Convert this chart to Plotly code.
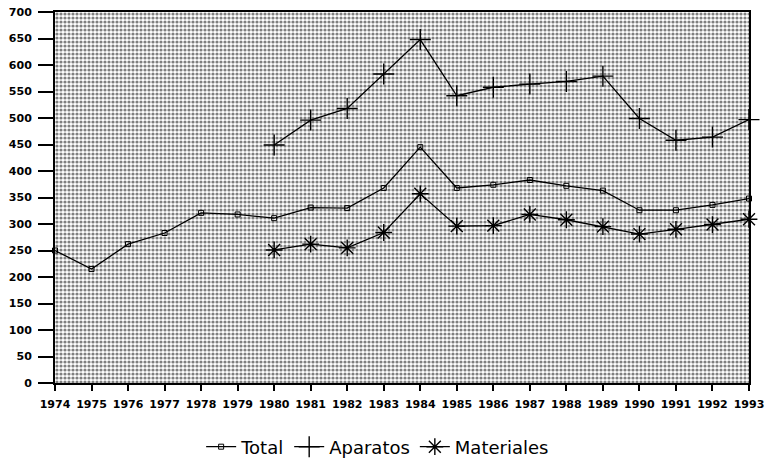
import plotly.graph_objects as go

years = list(range(1974, 1994))
total = [250, 215, 262, 283, 321, 318, 311, 331, 330, 368, 445, 368, 374, 383, 372, 363, 326, 326, 336, 348]
years_b = list(range(1980, 1994))
aparatos = [449, 496, 518, 583, 648, 542, 558, 564, 569, 579, 499, 458, 464, 497]
materiales = [251, 262, 255, 284, 357, 296, 297, 318, 308, 295, 281, 290, 299, 309]
y_ticks = list(range(0, 701, 50))
x_min, x_max, y_max = 1974, 1993, 700

fig = go.Figure()
# dotted background of the plot area
fig.add_trace(go.Scatter(
    x=[x_min, x_max], y=[y_max, y_max], mode="lines", line=dict(width=0),
    fill="tozeroy", fillcolor="white",
    fillpattern=dict(shape=".", fgcolor="black", bgcolor="white", size=4, solidity=0.5),
    hoverinfo="skip", showlegend=False))

line = dict(color="black", width=1.3)
fig.add_trace(go.Scatter(x=years, y=total, name="Total", mode="lines+markers", line=line,
                         marker=dict(symbol="square-open", size=5, color="black", line=dict(width=1)),
                         cliponaxis=False))
fig.add_trace(go.Scatter(x=years_b, y=aparatos, name="Aparatos", mode="lines+markers", line=line,
                         marker=dict(symbol="cross-thin-open", size=15, color="black", line=dict(width=1.4, color="black")),
                         cliponaxis=False))
fig.add_trace(go.Scatter(x=years_b, y=materiales, name="Materiales", mode="lines+markers", line=line,
                         marker=dict(symbol="asterisk-open", size=14, color="black", line=dict(width=1.4, color="black")),
                         cliponaxis=False))

tickfont = dict(family="DejaVu Sans, sans-serif", size=11, color="black", weight="bold")
fig.update_layout(
    width=766, height=462,
    margin=dict(l=55, r=17, t=12, b=79),
    paper_bgcolor="white", plot_bgcolor="white",
    font=dict(family="Liberation Sans, Arial, sans-serif", color="black"),
    legend=dict(orientation="h", xref="container", yref="container",
                x=0.493, xanchor="center", y=0.0325, yanchor="middle",
                font=dict(family="DejaVu Sans, sans-serif", size=18, color="black"),
                itemwidth=30, tracegroupgap=0),
    xaxis=dict(range=[x_min, x_max], tickvals=years, ticktext=[str(y) for y in years],
               showgrid=False, zeroline=False, showline=True, linecolor="black", linewidth=1.5,
               mirror=True, ticks="outside", ticklen=6, tickcolor="black", tickwidth=1.5,
               ticklabelstandoff=4, automargin=False, tickfont=tickfont),
    yaxis=dict(range=[0, y_max], tickvals=y_ticks, showgrid=False, zeroline=False,
               showline=True, linecolor="black", linewidth=2, mirror=True,
               ticks="outside", ticklen=15, tickcolor="black", tickwidth=1.5,
               ticklabelstandoff=4, automargin=False, tickfont=tickfont),
)
# remove the default page margin so the figure fills the window exactly
fig.write_html("out.html", config={"displayModeBar": False},
               post_script="document.body.style.margin='0';")
